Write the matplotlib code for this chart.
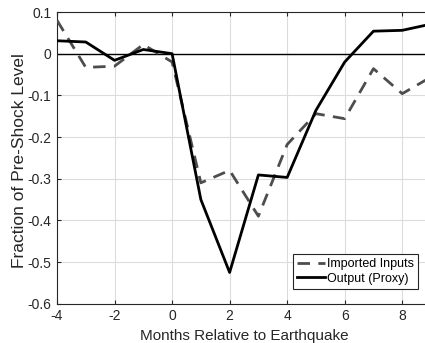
import numpy as np
import matplotlib.pyplot as plt

plt.rcParams['font.family'] = ['Liberation Sans', 'DejaVu Sans']

# months relative to the earthquake
months = [-4, -3, -2, -1, 0, 1, 2, 3, 4, 5, 6, 7, 8, 9]
imported = [0.08, -0.033, -0.03, 0.022, -0.02, -0.31, -0.28, -0.39, -0.218, -0.144, -0.156,
            -0.036, -0.096, -0.056]
output = [0.031, 0.028, -0.016, 0.01, 0.0, -0.35, -0.525, -0.291, -0.297, -0.136, -0.02,
          0.054, 0.056, 0.071]

fig = plt.figure(figsize=(4.25, 3.43), dpi=100)
# axes runs a bit past the right edge (the original is cropped there)
ax = fig.add_axes([57 / 425, 1 - 303.7 / 343, (431 - 57) / 425, (303.7 - 12) / 343])

ax.axhline(0, color='black', linewidth=1.0, zorder=2)
ax.plot(months, imported, color='#4d4d4d', linewidth=2, linestyle=(0, (4.5, 3)),
        label='Imported Inputs', zorder=3)
ax.plot(months, output, color='black', linewidth=2, label='Output (Proxy)', zorder=4)

ax.set_xlim(-4, 9)
ax.set_ylim(-0.6, 0.1)
ax.set_xticks(np.arange(-4, 9, 2))
ax.set_yticks(np.arange(-0.6, 0.11, 0.1))
ax.set_yticklabels(['-0.6', '-0.5', '-0.4', '-0.3', '-0.2', '-0.1', '0', '0.1'])
ax.set_xticklabels(['-4', '-2', '0', '2', '4', '6', '8'])
ax.grid(True, color='#dcdcdc', linewidth=0.8)
ax.set_axisbelow(True)
ax.tick_params(direction='in', top=True, right=True, length=3, labelsize=10,
               colors='#262626', pad=4)
for s in ax.spines.values():
    s.set_color('#262626')
    s.set_linewidth(0.8)

ax.set_xlabel('Months Relative to Earthquake', fontsize=11, color='#262626')
ax.xaxis.set_label_coords(0.5, -0.088)
ax.set_ylabel('Fraction of Pre-Shock Level', fontsize=12.5, color='#262626')
ax.yaxis.set_label_coords(-0.081, 0.49)

leg = ax.legend(loc='lower right', bbox_to_anchor=(0.965, 0.05), borderaxespad=0,
                fontsize=9, fancybox=False, framealpha=1, edgecolor='#262626',
                borderpad=0.35, handlelength=2.2, handletextpad=0.15, labelspacing=0.2)
leg.get_frame().set_linewidth(0.8)

fig.savefig('out.png', dpi=100)
